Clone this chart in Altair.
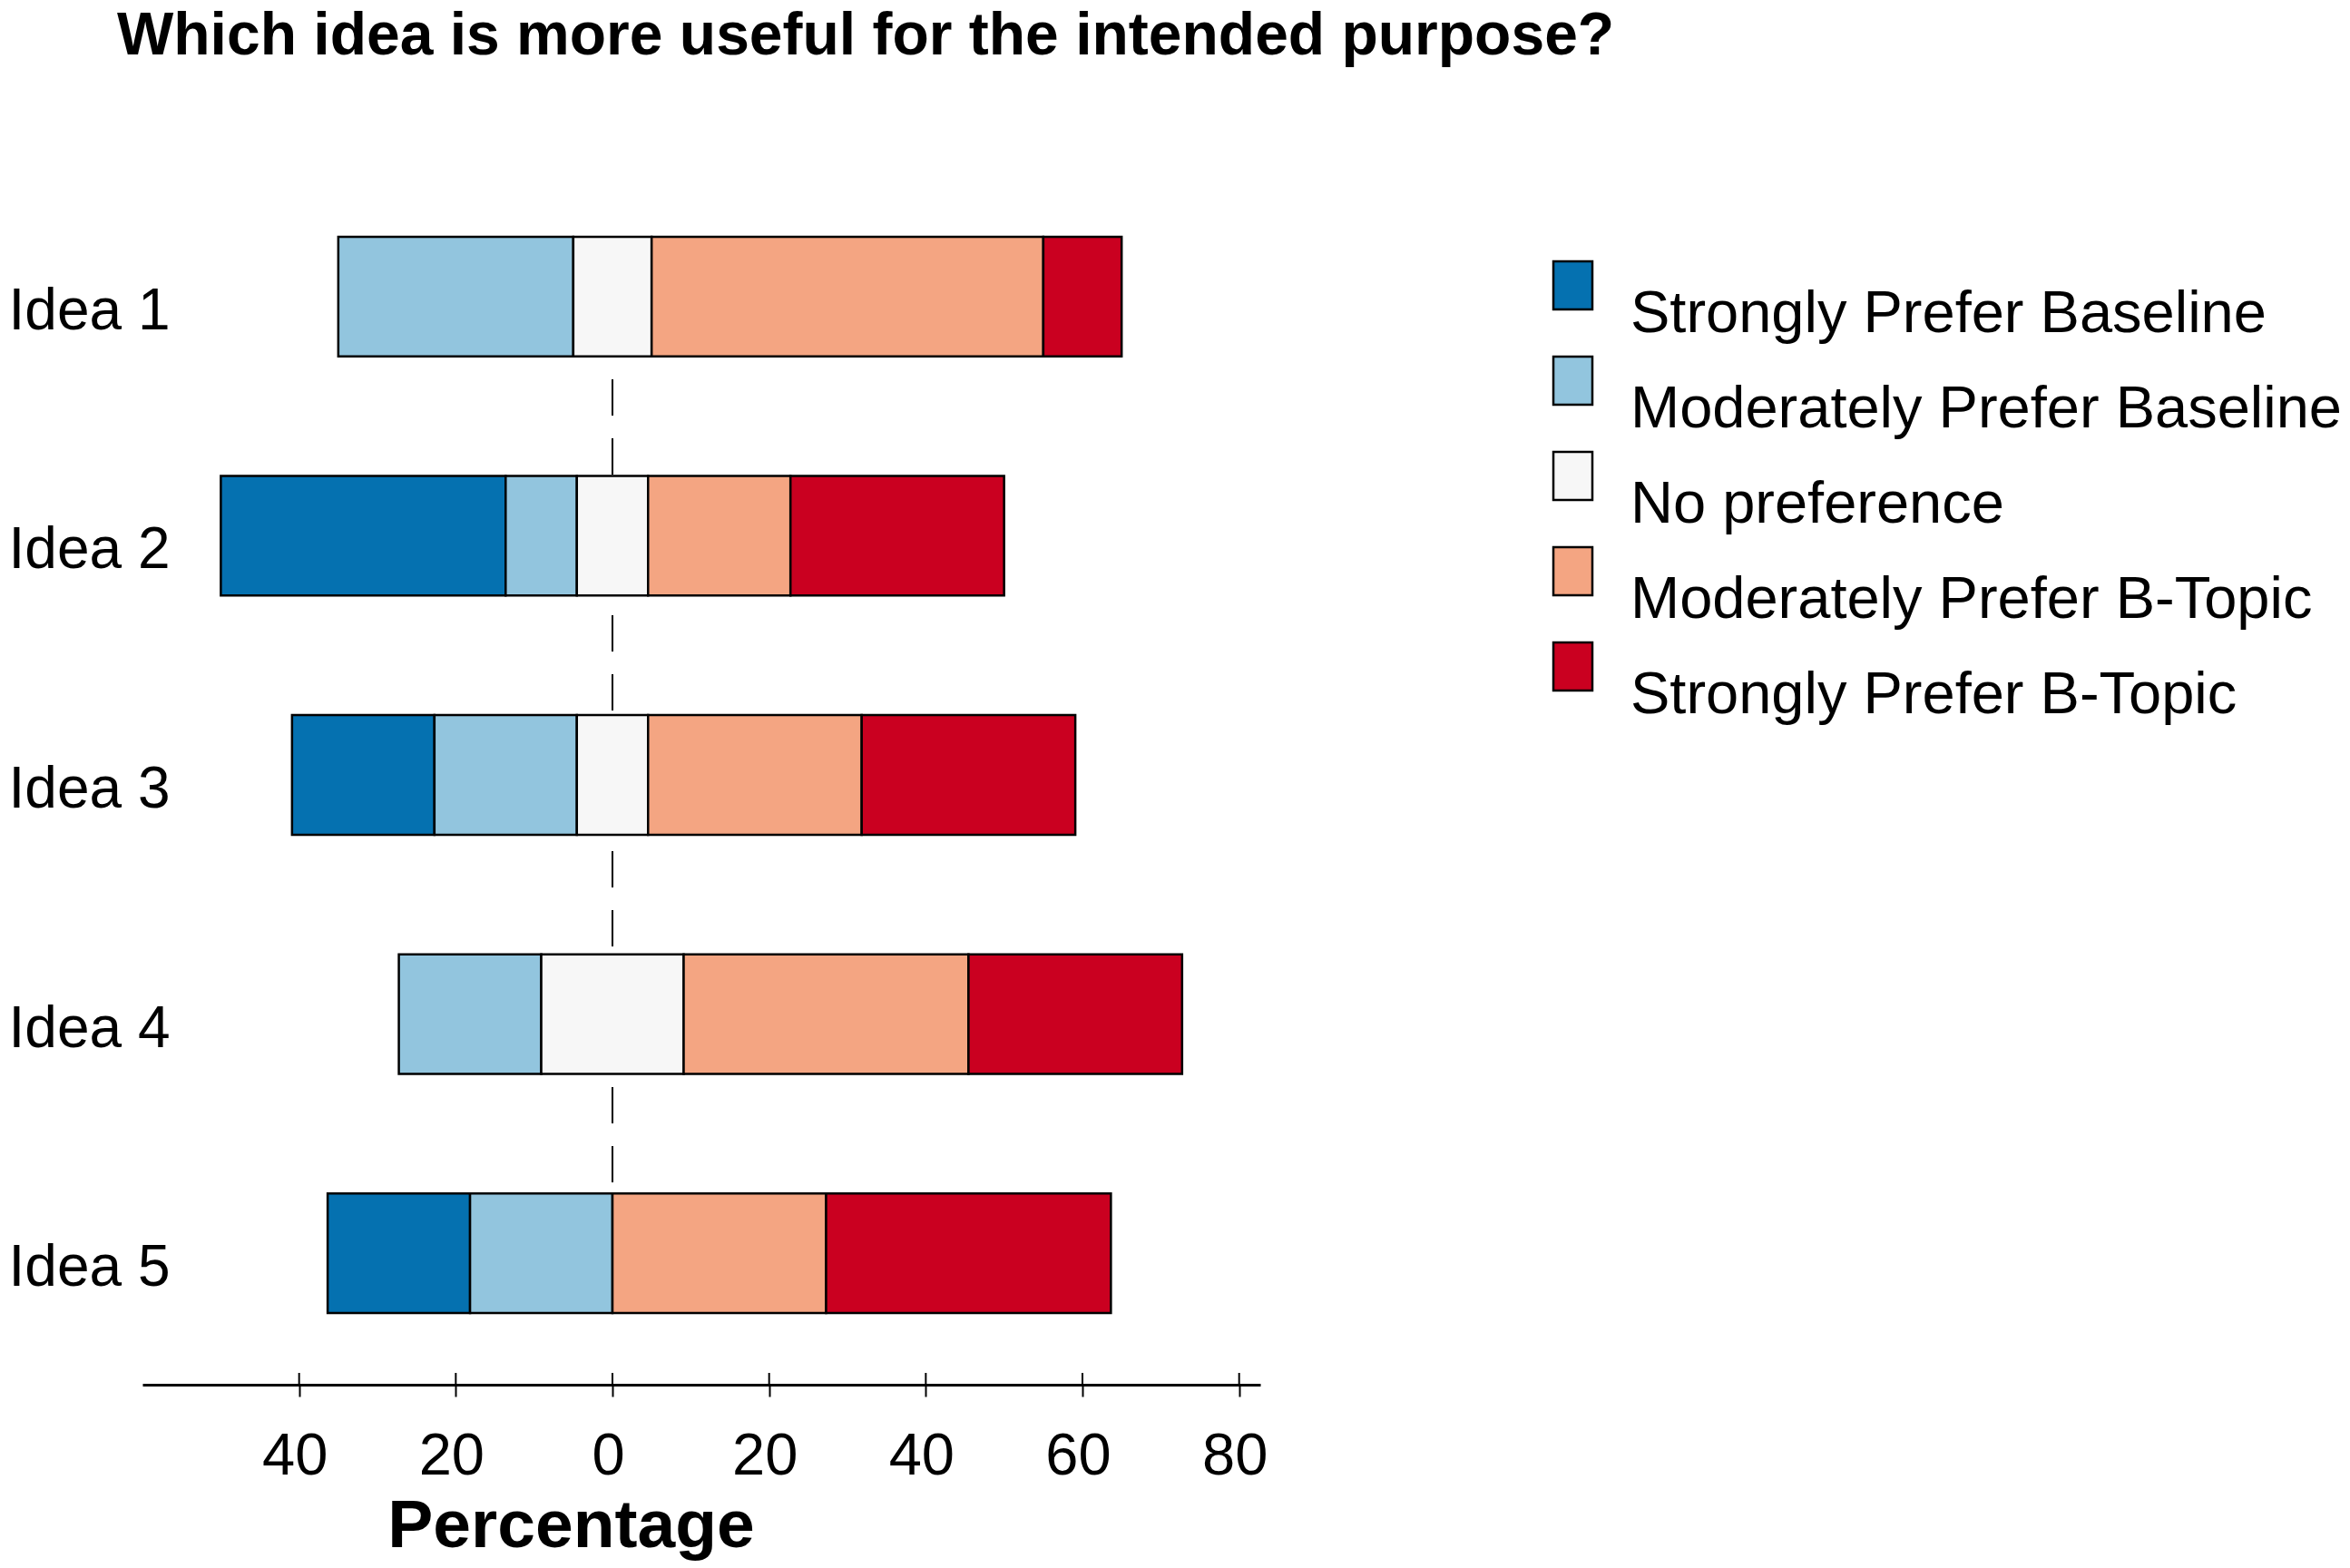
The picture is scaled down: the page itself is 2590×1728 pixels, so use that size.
import altair as alt
import pandas as pd

ideas = ["Idea 1", "Idea 2", "Idea 3", "Idea 4", "Idea 5"]
levels = [
    "Strongly Prefer Baseline",
    "Moderately Prefer Baseline",
    "No preference",
    "Moderately Prefer B-Topic",
    "Strongly Prefer B-Topic",
]
colors = ["#0571B0", "#92C5DE", "#F7F7F7", "#F4A582", "#CA0020"]

strong_base = [0.0, 36.36, 18.18, 0.0, 18.18]
moderate_base = [30.0, 9.09, 18.18, 18.18, 18.18]
no_pref = [10.0, 9.09, 9.09, 18.18, 0.0]
moderate_bt = [50.0, 18.18, 27.27, 36.36, 27.27]
strong_bt = [10.0, 27.27, 27.27, 27.27, 36.36]

tick_values = [-40, -20, 0, 20, 40, 60, 80]
title_text = "Which idea is more useful for the intended purpose?"

rows = []
for i, idea in enumerate(ideas):
    vals = [strong_base[i], moderate_base[i], no_pref[i], moderate_bt[i], strong_bt[i]]
    start = -(vals[0] + vals[1] + vals[2] / 2.0)
    for lev, v in zip(levels, vals):
        if v > 0:
            rows.append({"idea": idea, "level": lev, "start": start, "end": start + v, "pct": v})
        start += v
df = pd.DataFrame(rows)

W, H = 1232, 1344
FONT = "Liberation Sans"

xscale = alt.Scale(domain=[-60, 82.7], nice=False, zero=False)
yscale = alt.Scale(domain=ideas, paddingInner=0.5, paddingOuter=0.3)

bars = alt.Chart(df).mark_bar(stroke="black", strokeWidth=2.5, opacity=1).encode(
    x=alt.X(
        "start:Q",
        scale=xscale,
        axis=alt.Axis(
            values=tick_values,
            labelExpr="abs(datum.value)",
            title="Percentage",
            grid=False,
            domainColor="black",
            domainWidth=3,
            tickColor="black",
            tickWidth=2,
            tickSize=13,
            labelFontSize=65,
            labelFont=FONT,
            labelColor="black",
            labelPadding=34,
            labelOffset=-5,
            titleFont=FONT,
            titleFontSize=75,
            titleFontWeight="bold",
            titleColor="black",
            titleX=472,
            titleY=178,
            titleAlign="center",
            titleBaseline="alphabetic",
        ),
    ),
    x2="end:Q",
    y=alt.Y(
        "idea:N",
        scale=yscale,
        sort=ideas,
        axis=alt.Axis(
            title=None,
            domain=False,
            ticks=False,
            grid=False,
            tickSize=0,
            labelPadding=0,
            offset=-30,
            labelFontSize=64,
            labelFont=FONT,
            labelColor="black",
            labelBaseline="middle",
            labelOffset=17,
            labelLimit=1000,
        ),
    ),
    color=alt.Color(
        "level:N",
        scale=alt.Scale(domain=levels, range=colors),
        legend=alt.Legend(
            title=None,
            orient="none",
            legendX=1544,
            legendY=100,
            symbolType="M-0.811,-1H0.811V1H-0.811Z",
            symbolSize=2809,
            symbolStrokeColor="black",
            symbolStrokeWidth=2.5,
            symbolOpacity=1,
            labelFontSize=65,
            labelFont=FONT,
            labelColor="black",
            labelBaseline="top",
            labelOffset=31,
            rowPadding=8,
            labelLimit=3000,
            padding=0,
        ),
    ),
    order=alt.Order("start:Q"),
)

zero_line = alt.Chart(pd.DataFrame({"v": [0]})).mark_rule(
    color="black", strokeWidth=2, strokeDash=[40, 25], strokeDashOffset=38
).encode(x=alt.X("v:Q", scale=xscale), y=alt.value(79), y2=alt.value(1265))

tick_up = alt.Chart(pd.DataFrame({"t": tick_values})).mark_rule(
    color="black", strokeWidth=2
).encode(x=alt.X("t:Q", scale=xscale), y=alt.value(H - 13), y2=alt.value(H))

title_mark = alt.Chart(pd.DataFrame({"title": [title_text]})).mark_text(
    font=FONT, fontSize=66, fontWeight="bold", color="black",
    align="left", baseline="alphabetic",
).encode(text="title:N", x=alt.value(-28), y=alt.value(-122))

chart = (
    alt.layer(zero_line, bars, tick_up, title_mark)
    .properties(
        width=W,
        height=H,
        autosize=alt.AutoSizeParams(type="none"),
        padding={"left": 149, "top": 174, "right": 1193, "bottom": 194},
        view=alt.ViewBackground(stroke="transparent", strokeWidth=0),
    )
    .configure_view(stroke="transparent", strokeWidth=0, strokeOpacity=0)
    .configure_axis(grid=False)
    .configure(background="white")
)

chart.save("out.html", embed_options={"renderer": "svg", "actions": False})
